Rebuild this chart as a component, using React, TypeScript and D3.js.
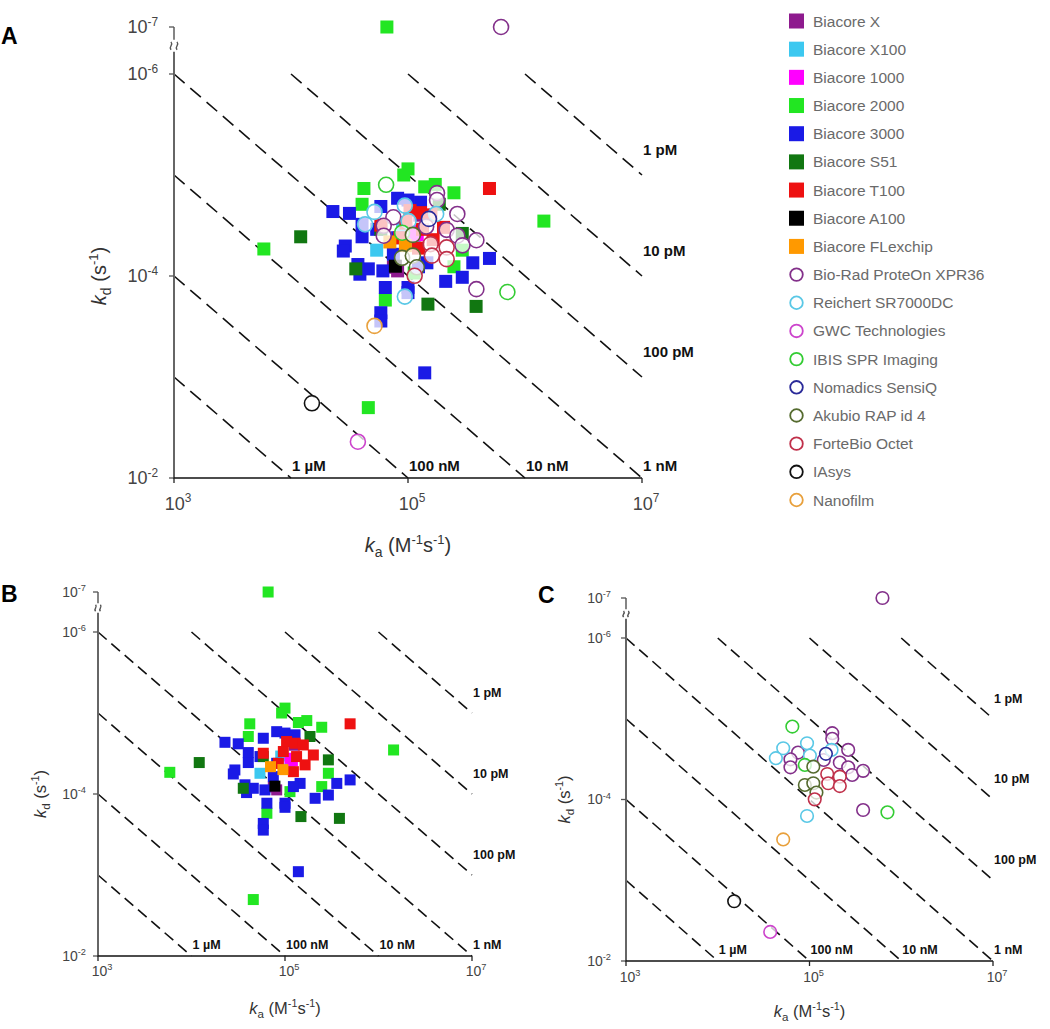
import React from "react";
import * as d3 from "d3";

// ---------- DATA (ka in M^-1 s^-1, kd in s^-1) ----------
const squareNames = ["Biacore X", "Biacore X100", "Biacore 1000", "Biacore 2000", "Biacore 3000", "Biacore S51", "Biacore T100", "Biacore A100", "Biacore FLexchip"];
const circleNames = ["Bio-Rad ProteOn XPR36", "Reichert SR7000DC", "GWC Technologies", "IBIS SPR Imaging", "Nomadics SensiQ", "Akubio RAP id 4", "ForteBio Octet", "IAsys", "Nanofilm"];
const squareColors = ["#8e1a8e", "#3cc8f0", "#ff00ff", "#22e622", "#1a1ae6", "#117711", "#ee1111", "#000000", "#ff9900"];
const circleColors = ["#83308a", "#5ac8e6", "#cc44cc", "#33cc33", "#2a2a99", "#556b2f", "#c0304a", "#111111", "#e8a03c"];

const biacoreX = [[8.15e4, 8.9e-5], [1.26e5, 2.5e-5], [7.5e4, 8.2e-5]];
const biacoreX100 = [[5.4e4, 5.55e-5], [1.13e5, 4.8e-5], [9.0e4, 3.4e-5]];
const biacore1000 = [[1.13e5, 3.62e-5], [1.2e5, 3.9e-5]];
const biacore2000 = [[6.6e4, 1e-7], [5.86e3, 5.4e-5], [1.45e6, 2.86e-5], [4.58e4, 2.01e-3], [1e5, 8.7e-6], [9.2e4, 1e-5], [4.2e4, 1.36e-5], [4.05e4, 1.95e-5], [2.47e5, 1.5e-5], [1.71e5, 1.24e-5], [1.39e5, 1.31e-5], [2.91e5, 5.55e-5], [2.47e5, 8.1e-5], [1.13e5, 9.35e-5], [6.4e4, 1.73e-4]];
const biacore3000 = [[2.28e4, 2.3e-5], [3.16e4, 2.4e-5], [4.05e4, 3.08e-5], [4.05e4, 4.09e-5], [2.91e4, 5.05e-5], [2.8e4, 5.66e-5], [3.88e4, 9.6e-5], [4.58e4, 8.5e-5], [6.1e4, 8.9e-5], [6.4e4, 1.3e-4], [5.86e4, 2.31e-4], [5.86e4, 2.79e-4], [1e5, 1.3e-4], [1e5, 1.46e-4], [1.39e5, 9.1e-4], [2.1e5, 1.13e-4], [2.91e5, 1.03e-4], [3.58e5, 7.4e-5], [4.97e5, 6.7e-5], [5.86e4, 2.05e-5], [8.15e4, 1.7e-5], [1e5, 1.77e-5], [1.28e5, 1.86e-5], [1.45e5, 7.4e-5], [1.23e5, 8.1e-5], [3.73e4, 7.7e-5], [7.5e4, 6.1e-5], [8.15e4, 4.18e-5], [5.4e4, 3.45e-5]];
const biacoreS51 = [[1.21e4, 4.09e-5], [3.58e4, 8.5e-5], [1.48e5, 1.9e-4], [3.82e5, 2.0e-4], [2.91e5, 3.79e-5], [1.85e5, 1.95e-5], [5.86e4, 3.45e-5]];
const biacoreT100 = [[4.97e5, 1.36e-5], [1.04e5, 2.25e-5], [1.28e5, 2.36e-5], [1.57e5, 2.48e-5], [2.01e5, 3.3e-5], [9.6e4, 2.99e-5], [1.33e5, 3.45e-5], [1.64e5, 4.37e-5], [8.5e4, 4.18e-5], [5.86e4, 3.14e-5], [1.23e5, 5.3e-5]];
const biacoreA100 = [[7.8e4, 8.0e-5]];
const biacoreFLexchip = [[9.5e4, 5e-5], [7e4, 4.6e-5]];

const bioRad = [[6.24e5, 1e-7], [1.77e5, 1.51e-5], [1.77e5, 1.77e-5], [7.5e4, 2.62e-5], [6.2e4, 3.18e-5], [6.2e4, 3.99e-5], [1.43e5, 3.24e-5], [2.14e5, 3.49e-5], [2.64e5, 2.43e-5], [2.64e5, 3.99e-5], [2.92e5, 4.97e-5], [3.84e5, 4.42e-5], [3.84e5, 1.35e-4]];
const reichert = [[5.17e4, 2.32e-5], [9.4e4, 2.01e-5], [4.3e4, 3.08e-5], [1.01e5, 2.86e-5], [1.74e5, 2.43e-5], [9.4e4, 1.6e-4]];
const gwc = [[3.73e4, 4.37e-3]];
const ibis = [[6.5e4, 1.25e-5], [8.9e4, 3.73e-5], [7.07e5, 1.44e-4]];
const nomadics = [[1.51e5, 2.72e-5]];
const akubio = [[1.1e5, 3.92e-5], [8.9e4, 6.61e-5], [1.1e5, 6.29e-5], [1.19e5, 8.2e-5]];
const forteBio = [[1.56e5, 4.83e-5], [1.6e5, 6.29e-5], [2.14e5, 5.21e-5], [2.14e5, 6.81e-5], [1.14e5, 9.96e-5]];
const iasys = [[1.51e4, 1.82e-3]];
const nanofilm = [[5.17e4, 3.12e-4]];

const squareData = [biacoreX, biacoreX100, biacore1000, biacore2000, biacore3000, biacoreS51, biacoreT100, biacoreA100, biacoreFLexchip];
const circleData = [bioRad, reichert, gwc, ibis, nomadics, akubio, forteBio, iasys, nanofilm];

const xTickExps = [3, 5, 7];
const yTickExps = [-7, -6, -4, -2];
const kdValues = [1e-12, 1e-11, 1e-10, 1e-9, 1e-8, 1e-7, 1e-6];
const kdLabels = ["1 pM", "10 pM", "100 pM", "1 nM", "10 nM", "100 nM", "1 µM"];

// ---------- LAYOUT ----------
const FONT = "'Liberation Sans', Arial, sans-serif";

type Cfg = {
  label: string; lx: number; ly: number; lfs: number;
  x0: number; x1: number; y7: number; y6: number; y2: number;
  tickFs: number; xTickDy: number; yTickDx: number;
  titleFs: number; yTitleX: number; xTitleY: number;
  kdFs: number; sq: number; r: number; mode: "all" | "sq" | "ci";
};

const panels: Cfg[] = [
  { label: "A", lx: 1, ly: 44, lfs: 23, x0: 174, x1: 642, y7: 27, y6: 74, y2: 478, tickFs: 18, xTickDy: 32, yTickDx: 16, titleFs: 20, yTitleX: 106, xTitleY: 552, kdFs: 15, sq: 13, r: 7.5, mode: "all" },
  { label: "B", lx: 1, ly: 602, lfs: 23, x0: 98, x1: 472, y7: 592, y6: 632, y2: 956, tickFs: 14, xTickDy: 20, yTickDx: 12, titleFs: 16.5, yTitleX: 46, xTitleY: 1014, kdFs: 12.5, sq: 11, r: 6.3, mode: "sq" },
  { label: "C", lx: 538, ly: 603, lfs: 23, x0: 626, x1: 993, y7: 598, y6: 638, y2: 961, tickFs: 14, xTickDy: 21, yTickDx: 15, titleFs: 16.5, yTitleX: 570, xTitleY: 1017, kdFs: 12.5, sq: 11, r: 6.3, mode: "ci" },
];

function Panel({ c }: { c: Cfg }) {
  const x = d3.scaleLog().domain([1e3, 1e7]).range([c.x0, c.x1]);
  const yMain = d3.scaleLog().domain([1e-6, 1e-2]).range([c.y6, c.y2]);
  const yTop = d3.scaleLog().domain([1e-7, 1e-6]).range([c.y7, c.y6]);
  const y = (v: number) => (v < 1e-6 ? yTop(v) : yMain(v));
  const dec = (c.y2 - c.y6) / 4;
  const yBreak = c.y7 + (c.y6 - c.y7) * 0.4;
  const supFs = c.tickFs * 0.66;
  const k = dec / 101;

  const lines = kdValues.map((K, i) => {
    const kaS = Math.max(1e3, 1e-6 / K);
    const kaE = Math.min(1e7, 1e-2 / K);
    return { K, i, xs: x(kaS), ys: yMain(kaS * K), xe: x(kaE), ye: yMain(kaE * K) };
  });

  return (
    <g fontFamily={FONT}>
      <text x={c.lx} y={c.ly} fontSize={c.lfs} fontWeight="bold" fill="#000">{c.label}</text>
      {/* iso-affinity lines */}
      {lines.map((l) => (
        <line key={l.K} x1={l.xs} y1={l.ys} x2={l.xe} y2={l.ye} stroke="#111" strokeWidth={1.6} strokeDasharray={`${13 * k + 1},${6.5 * k + 1}`} />
      ))}
      {lines.map((l) => {
        const atRight = l.K < 1e-9;
        const tx = l.xe + 1;
        const ty = atRight ? l.ye - 0.2 * dec : c.y2 - 7;
        return (
          <text key={"t" + l.K} x={tx} y={ty} fontSize={c.kdFs} fontWeight="bold" fill="#111">{kdLabels[l.i]}</text>
        );
      })}
      {/* axes */}
      <line x1={c.x0} x2={c.x0} y1={c.y2} y2={yBreak + 6 * k} stroke="#666" strokeWidth={2} />
      <line x1={c.x0} x2={c.x0} y1={yBreak - 6 * k} y2={c.y7} stroke="#666" strokeWidth={1.6} />
      <g transform={`translate(${c.x0},${yBreak})`} stroke="#555" strokeWidth={1.4} fill="none">
        <path d={`M${-3 * k},${-4 * k} q${1.5 * k},${2 * k} 0,${4 * k} t0,${4 * k}`} transform={`translate(0,0)`} />
        <path d={`M${3 * k},${-4 * k} q${1.5 * k},${2 * k} 0,${4 * k} t0,${4 * k}`} />
      </g>
      <line x1={c.x0 - 1} x2={c.x1} y1={c.y2} y2={c.y2} stroke="#111" strokeWidth={1.5} />
      {yTickExps.map((e) => {
        const yy = y(Math.pow(10, e));
        return (
          <g key={"y" + e}>
            <line x1={c.x0 - 5} x2={c.x0} y1={yy} y2={yy} stroke="#555" strokeWidth={1.3} />
            <text x={c.x0 - c.yTickDx} y={yy + c.tickFs * 0.35} textAnchor="end" fontSize={c.tickFs} fill="#444">
              10<tspan dy={-c.tickFs * 0.42} fontSize={supFs}>{String(e)}</tspan>
            </text>
          </g>
        );
      })}
      {xTickExps.map((e) => {
        const xx = x(Math.pow(10, e));
        return (
          <g key={"x" + e}>
            <line x1={xx} x2={xx} y1={c.y2} y2={c.y2 + 5} stroke="#222" strokeWidth={1.3} />
            <text x={xx + 4} y={c.y2 + c.xTickDy} textAnchor="middle" fontSize={c.tickFs} fill="#444">
              10<tspan dy={-c.tickFs * 0.42} fontSize={supFs}>{String(e)}</tspan>
            </text>
          </g>
        );
      })}
      {/* axis titles */}
      <text transform={`translate(${c.yTitleX},${yMain(1e-4)}) rotate(-90)`} textAnchor="middle" fontSize={c.titleFs} fill="#333">
        <tspan fontStyle="italic">k</tspan>
        <tspan dy={c.titleFs * 0.25} fontSize={c.titleFs * 0.7}>d</tspan>
        <tspan dy={-c.titleFs * 0.25}> (s</tspan>
        <tspan dy={-c.titleFs * 0.4} fontSize={c.titleFs * 0.65}>-1</tspan>
        <tspan dy={c.titleFs * 0.4}>)</tspan>
      </text>
      <text x={x(1e5)} y={c.xTitleY} textAnchor="middle" fontSize={c.titleFs} fill="#333">
        <tspan fontStyle="italic">k</tspan>
        <tspan dy={c.titleFs * 0.25} fontSize={c.titleFs * 0.7}>a</tspan>
        <tspan dy={-c.titleFs * 0.25}> (M</tspan>
        <tspan dy={-c.titleFs * 0.4} fontSize={c.titleFs * 0.65}>-1</tspan>
        <tspan dy={c.titleFs * 0.4}>s</tspan>
        <tspan dy={-c.titleFs * 0.4} fontSize={c.titleFs * 0.65}>-1</tspan>
        <tspan dy={c.titleFs * 0.4}>)</tspan>
      </text>
      {/* points */}
      {c.mode !== "ci" && squareData.map((arr, si) => (
        <g key={"s" + si}>
          {arr.map((p, pi) => (
            <rect key={pi} x={x(p[0]) - c.sq / 2} y={y(p[1]) - c.sq / 2} width={c.sq} height={c.sq} fill={squareColors[si]} />
          ))}
        </g>
      ))}
      {c.mode !== "sq" && circleData.map((arr, si) => (
        <g key={"c" + si}>
          {arr.map((p, pi) => (
            <circle key={pi} cx={x(p[0])} cy={y(p[1])} r={c.r} fill="#fff" fillOpacity={0.75} stroke={circleColors[si]} strokeWidth={1.6} />
          ))}
        </g>
      ))}
    </g>
  );
}

function Legend() {
  const names = [...squareNames, ...circleNames];
  const yy = d3.scaleLinear().domain([0, names.length - 1]).range([21, 500]);
  return (
    <g fontFamily={FONT}>
      {names.map((n, i) => {
        const isSq = i < squareNames.length;
        const col = isSq ? squareColors[i] : circleColors[i - squareNames.length];
        return (
          <g key={n}>
            {isSq ? (
              <rect x={789} y={yy(i) - 7.5} width={15} height={15} fill={col} />
            ) : (
              <circle cx={796.5} cy={yy(i)} r={6.3} fill="#fff" stroke={col} strokeWidth={1.8} />
            )}
            <text x={813} y={yy(i) + 5.5} fontSize={15.5} fill="#6a6a6a">{n}</text>
          </g>
        );
      })}
    </g>
  );
}

export default function App() {
  return (
    <svg width={1050} height={1029} style={{ position: "absolute", left: 0, top: 0, background: "#fff" }}>
      <rect width={1050} height={1029} fill="#fff" />
      {panels.map((c) => <Panel key={c.label} c={c} />)}
      <Legend />
    </svg>
  );
}
